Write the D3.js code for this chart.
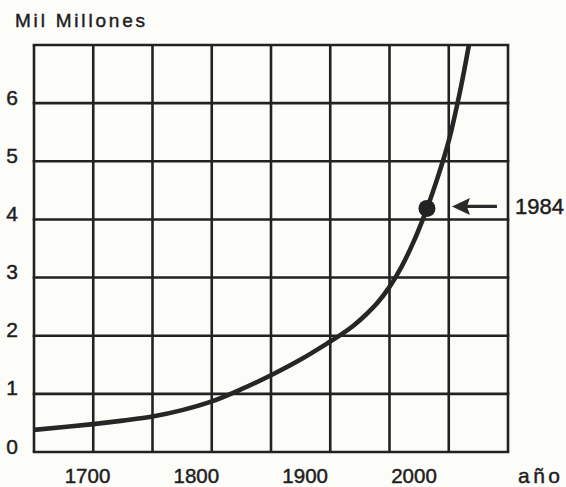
<!DOCTYPE html>
<html>
<head>
<meta charset="utf-8">
<script src="https://cdn.jsdelivr.net/npm/d3@7"></script>
<style>
  html, body { margin: 0; padding: 0; background: #fcfcf9; }
  svg { display: block; }
  text { font-family: "Liberation Sans", Arial, sans-serif; fill: #1e1e1e; stroke: #1e1e1e; stroke-width: 0.45px; }
</style>
</head>
<body>
<div class="chart"></div>
<script>
// World population (thousand millions)
const years  = [1650, 1700, 1725, 1750, 1775, 1800, 1825, 1850, 1875, 1900, 1910, 1920, 1930, 1940, 1950, 1960, 1970, 1980, 1990, 2000, 2010, 2017];
const values = [0.38, 0.48, 0.54, 0.61, 0.72, 0.87, 1.08, 1.32, 1.59, 1.90, 2.03, 2.18, 2.36, 2.57, 2.84, 3.18, 3.60, 4.10, 4.68, 5.35, 6.25, 7.00];

// Highlighted point (drawn where it sits in the picture, labelled 1984)
const markYear = 1981.6;
const markValue = 4.19;
const markLabel = '1984';

// Axis ticks and labels
const gridYears = [1650, 1700, 1750, 1800, 1850, 1900, 1950, 2000, 2050];
const gridValues = [0, 1, 2, 3, 4, 5, 6, 7];
const xTickLabels = [1700, 1800, 1900, 2000];
const yTickLabels = [0, 1, 2, 3, 4, 5, 6];
const yTitle = 'Mil Millones';
const xTitle = 'año';

const width = 566, height = 487;
const ink = '#222';

const svg = d3.select('.chart').append('svg')
    .attr('width', width)
    .attr('height', height);

const x = d3.scaleLinear().domain([1650, 2050]).range([34, 508]);
const y = d3.scaleLinear().domain([0, 7]).range([452, 45]);

// tick labels in the original sit a little left of their grid lines
const xLabel = d3.scaleLinear().domain([1700, 2000]).range([87.5, 414]);

// Grid
svg.append('g')
    .selectAll('line')
    .data(gridYears)
    .enter().append('line')
    .attr('x1', d => x(d)).attr('x2', d => x(d))
    .attr('y1', y(0)).attr('y2', y(7))
    .attr('stroke', ink)
    .attr('stroke-width', 2.6);

svg.append('g')
    .selectAll('line')
    .data(gridValues)
    .enter().append('line')
    .attr('x1', x(1650) - 1.3).attr('x2', x(2050) + 1.3)
    .attr('y1', d => y(d)).attr('y2', d => y(d))
    .attr('stroke', ink)
    .attr('stroke-width', 2.6);

// Population curve, clipped to the frame
svg.append('clipPath').attr('id', 'plot')
    .append('rect')
    .attr('x', x(1650)).attr('y', y(7))
    .attr('width', x(2050) - x(1650)).attr('height', y(0) - y(7));

const line = d3.line()
    .x((d, i) => x(years[i]))
    .y(d => y(d))
    .curve(d3.curveCatmullRom.alpha(0.5));

svg.append('path')
    .datum(values)
    .attr('clip-path', 'url(#plot)')
    .attr('d', line)
    .attr('fill', 'none')
    .attr('stroke', '#262626')
    .attr('stroke-width', 4.6)
    .attr('stroke-linecap', 'round');

// 1984 marker, arrow and label
const mx = x(markYear), my = y(markValue);
svg.append('circle')
    .attr('cx', mx).attr('cy', my)
    .attr('r', 8.5)
    .attr('fill', '#222');

const ay = my - 2;
svg.append('line')
    .attr('x1', mx + 38).attr('x2', mx + 70)
    .attr('y1', ay).attr('y2', ay)
    .attr('stroke', '#2a2a2a')
    .attr('stroke-width', 3.4);
svg.append('path')
    .attr('d', `M${mx + 25},${ay} L${mx + 43},${ay - 8.5} L${mx + 40},${ay} L${mx + 43},${ay + 8.5} Z`)
    .attr('fill', '#2a2a2a');

svg.append('text')
    .attr('x', mx + 88).attr('y', ay + 7.5)
    .attr('font-size', 22)
    .text(markLabel);

// Tick labels
svg.append('g')
    .selectAll('text')
    .data(xTickLabels)
    .enter().append('text')
    .attr('x', d => xLabel(d))
    .attr('y', 483)
    .attr('text-anchor', 'middle')
    .attr('font-size', 20.5)
    .text(d => d);

svg.append('g')
    .selectAll('text')
    .data(yTickLabels)
    .enter().append('text')
    .attr('x', 12)
    .attr('y', d => y(d) + 1.5)
    .attr('text-anchor', 'middle')
    .attr('font-size', 21)
    .text(d => d);

// Titles
svg.append('text')
    .attr('x', 15).attr('y', 27)
    .attr('font-family', '"DejaVu Sans", sans-serif')
    .attr('font-size', 19)
    .attr('textLength', 130)
    .attr('lengthAdjust', 'spacing')
    .text(yTitle);

svg.append('text')
    .attr('x', 518).attr('y', 483)
    .attr('font-family', '"DejaVu Sans", sans-serif')
    .attr('font-size', 21)
    .attr('textLength', 42)
    .attr('lengthAdjust', 'spacing')
    .text(xTitle);
</script>
</body>
</html>
